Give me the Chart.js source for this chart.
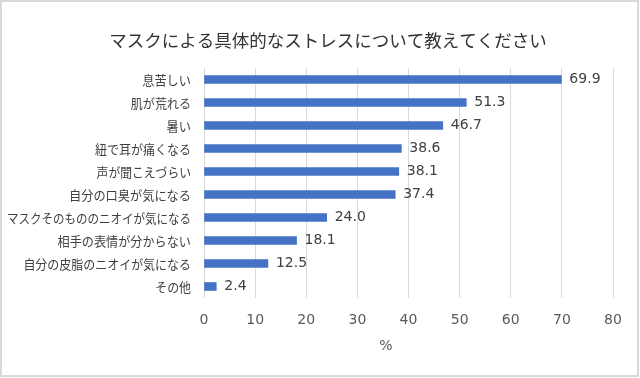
<!DOCTYPE html>
<html><head><meta charset="utf-8">
<script src="https://cdn.jsdelivr.net/npm/chart.js@4/dist/chart.umd.min.js"></script>
<style>html,body{margin:0;padding:0;background:#fff}#wrap{width:640px;height:378px;position:relative}</style>
</head><body><div id="wrap"><canvas id="c" width="640" height="378"></canvas></div>
<script>
const categories = ["息苦しい","肌が荒れる","暑い","紐で耳が痛くなる","声が聞こえづらい","自分の口臭が気になる","マスクそのもののニオイが気になる","相手の表情が分からない","自分の皮脂のニオイが気になる","その他"];
const values = [69.9, 51.3, 46.7, 38.6, 38.1, 37.4, 24.0, 18.1, 12.5, 2.4];
const xTicks = [0,10,20,30,40,50,60,70,80];
const titleText = "マスクによる具体的なストレスについて教えてください";
const axisTitle = "%";

const JP = '"Noto Sans CJK JP", sans-serif';
const NUM = '"DejaVu Sans", sans-serif';

const decor = {
  id: 'decor',
  beforeDraw(chart) {
    const ctx = chart.ctx;
    ctx.save();
    ctx.fillStyle = '#fff';
    ctx.fillRect(0,0,chart.width,chart.height);
    ctx.restore();
  },
  afterDraw(chart) {
    const ctx = chart.ctx;
    ctx.save();
    ctx.strokeStyle = '#d9d9d9';
    ctx.lineWidth = 2;
    ctx.strokeRect(1,1,chart.width-3,chart.height-3);
    ctx.fillStyle = '#333333';
    ctx.font = '17.5px ' + JP;
    ctx.textAlign = 'center';
    ctx.textBaseline = 'middle';
    ctx.fillText(titleText, 328, 40);
    ctx.fillStyle = '#595959';
    ctx.font = '14px ' + NUM;
    ctx.fillText(axisTitle, 386, 346);
    // category labels (proportional-looking kana via maxWidth)
    const ys = chart.scales.y;
    ctx.fillStyle = '#404040';
    ctx.font = '13px ' + JP;
    ctx.textAlign = 'right';
    categories.forEach((lab, i) => {
      const y = ys.getPixelForTick(i);
      let target = 0;
      for (const ch of lab) target += /[\u4e00-\u9fff]/.test(ch) ? 13 : 11.4;
      const w = ctx.measureText(lab).width;
      ctx.fillText(lab, ys.right - 13, y + 0.5, Math.min(w, target));
    });
    ctx.restore();
  }
};

const valueLabels = {
  id: 'valueLabels',
  afterDatasetsDraw(chart) {
    const ctx = chart.ctx;
    const meta = chart.getDatasetMeta(0);
    ctx.save();
    ctx.fillStyle = '#404040';
    ctx.font = '14px ' + NUM;
    ctx.textAlign = 'left';
    ctx.textBaseline = 'middle';
    meta.data.forEach((bar, i) => {
      ctx.fillText(values[i].toFixed(1), bar.x + 8, bar.y);
    });
    ctx.restore();
  }
};

new Chart(document.getElementById('c'), {
  type: 'bar',
  data: {
    labels: categories,
    datasets: [{
      data: values,
      backgroundColor: '#4472C4',
      borderWidth: 0,
      barThickness: 8
    }]
  },
  options: {
    indexAxis: 'y',
    responsive: false,
    animation: false,
    devicePixelRatio: 1,
    layout: { padding: { top: 68, right: 27, bottom: 0, left: 0 } },
    plugins: { legend: { display: false }, title: { display: false }, tooltip: { enabled: false } },
    scales: {
      x: {
        min: 0, max: 80,
        afterBuildTicks(scale) { scale.ticks = xTicks.map(v => ({ value: v })); },
        afterFit(scale) { scale.height = 80; },
        grid: { color: '#d9d9d9', lineWidth: 1, drawTicks: false },
        border: { display: false },
        ticks: { color: '#595959', font: { family: NUM, size: 14 }, padding: 14, maxRotation: 0 }
      },
      y: {
        afterFit(scale) { scale.width = 204; },
        grid: { display: false, drawTicks: false },
        border: { display: false },
        ticks: { display: false, autoSkip: false }
      }
    }
  },
  plugins: [decor, valueLabels]
});
</script></body></html>
